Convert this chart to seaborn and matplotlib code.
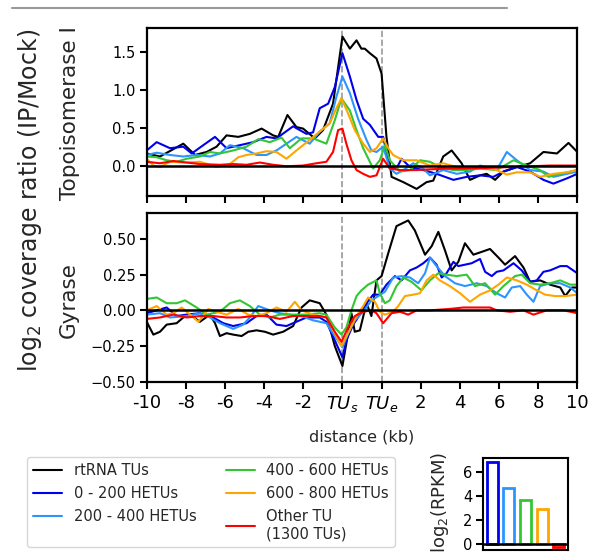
import numpy as np
import pandas as pd
import matplotlib
matplotlib.use("Agg")
import matplotlib.pyplot as plt
from matplotlib.lines import Line2D
import seaborn as sns

# ---------------- data ----------------
groups = ["rtRNA TUs", "0 - 200 HETUs", "200 - 400 HETUs",
          "400 - 600 HETUs", "600 - 800 HETUs", "Other TU\n(1300 TUs)"]
colors = ["black", "#0000ee", "#2b95ff", "#33c633", "#ffa500", "#ff0000"]

xtick_pos = [-10, -8, -6, -4, -2, 0, 2, 4, 6, 8, 10, 12]
xtick_lab = ["-10", "-8", "-6", "-4", "-2", "$TU_s$", "$TU_e$", "2", "4", "6", "8", "10"]

# Topoisomerase I panel
topo_rt_x = [-10, -9.32, -8.13, -7.53, -6.94, -6.43, -5.92, -5.32, -4.73, -4.13, -3.54, -3.28, -2.81, -2.35, -2.01, -1.41, -0.99, -0.48, 0, 0.38, 0.72, 0.97, 1.14, 1.40, 1.74, 2.0, 2.25, 2.51, 3.11, 3.79, 4.30, 4.64, 5.15, 5.58, 6.09, 6.52, 7.03, 7.37, 7.80, 8.23, 8.91, 9.59, 10.27, 10.96, 11.55, 12]
topo_rt_y = [0.16, 0.12, 0.29, 0.14, 0.18, 0.25, 0.40, 0.38, 0.42, 0.49, 0.40, 0.38, 0.67, 0.51, 0.49, 0.36, 0.47, 0.82, 1.71, 1.55, 1.66, 1.55, 1.55, 1.49, 1.42, 1.22, 0.38, -0.15, -0.22, -0.31, -0.22, -0.20, 0.12, 0.20, 0.03, -0.19, -0.13, -0.11, -0.19, -0.08, -0.02, 0.03, 0.18, 0.16, 0.30, 0.18]
topo_b0_x = [-10, -9.49, -8.81, -8.13, -7.70, -7.11, -6.51, -5.92, -5.24, -4.56, -3.88, -3.37, -2.52, -1.84, -1.50, -1.16, -0.73, -0.39, 0, 0.38, 0.72, 1.06, 1.40, 1.83, 2.08, 2.42, 2.76, 3.02, 3.45, 4.13, 4.81, 5.67, 6.35, 7.03, 7.71, 8.23, 8.91, 9.59, 10.27, 10.78, 11.47, 12]
topo_b0_y = [0.20, 0.31, 0.23, 0.25, 0.16, 0.27, 0.38, 0.23, 0.27, 0.31, 0.38, 0.36, 0.52, 0.42, 0.44, 0.76, 0.82, 1.04, 1.49, 1.18, 0.87, 0.62, 0.54, 0.38, 0.38, -0.02, -0.04, 0.09, -0.02, -0.06, -0.11, -0.19, -0.15, -0.13, -0.15, -0.08, -0.02, -0.08, -0.19, -0.24, -0.17, -0.11]
topo_b2_x = [-10, -9.49, -8.81, -8.13, -7.45, -6.77, -6.26, -5.75, -5.07, -4.39, -3.88, -3.37, -2.86, -2.35, -1.67, -1.16, -0.65, -0.31, 0, 0.38, 0.80, 1.23, 1.48, 1.74, 2.08, 2.42, 2.76, 3.11, 3.62, 4.13, 4.47, 5.15, 5.84, 6.52, 7.03, 7.88, 8.40, 8.91, 9.59, 10.27, 10.78, 11.47, 12]
topo_b2_y = [0.14, 0.17, 0.14, 0.12, 0.14, 0.12, 0.16, 0.27, 0.23, 0.14, 0.14, 0.20, 0.29, 0.38, 0.29, 0.45, 0.56, 0.91, 1.18, 0.96, 0.62, 0.34, 0.20, 0.18, 0.25, -0.04, -0.11, -0.06, 0.03, -0.04, -0.13, -0.06, -0.11, -0.08, 0.0, -0.06, 0.18, 0.07, -0.06, -0.08, -0.15, -0.11, -0.08]
topo_b4_x = [-10, -9.49, -8.98, -8.47, -7.96, -7.28, -6.77, -6.26, -5.58, -4.90, -4.30, -3.71, -3.11, -2.69, -2.09, -1.50, -0.82, -0.39, -0.05, 0.38, 0.72, 1.06, 1.57, 1.91, 2.17, 2.42, 2.94, 3.45, 3.96, 4.47, 4.98, 5.67, 6.35, 7.03, 7.88, 8.74, 9.42, 10.10, 10.53, 11.13, 12]
topo_b4_y = [0.12, 0.11, 0.07, 0.05, 0.09, 0.12, 0.18, 0.16, 0.20, 0.25, 0.35, 0.31, 0.37, 0.23, 0.36, 0.36, 0.29, 0.60, 0.89, 0.73, 0.47, 0.23, -0.04, 0.07, 0.27, 0.07, -0.08, -0.06, 0.07, 0.05, -0.02, -0.06, -0.06, -0.04, -0.06, 0.07, 0.0, -0.06, -0.15, -0.11, -0.06]
topo_b6_x = [-10, -9.66, -9.32, -8.81, -7.96, -7.28, -6.43, -5.75, -5.32, -4.90, -4.39, -3.88, -3.37, -2.86, -2.35, -1.67, -1.16, -0.65, -0.31, -0.05, 0.29, 0.63, 1.06, 1.40, 1.74, 2.08, 2.34, 2.59, 3.11, 3.79, 4.47, 5.15, 5.84, 6.52, 7.20, 7.88, 8.40, 8.91, 9.59, 10.10, 10.78, 11.47, 12]
topo_b6_y = [0.09, 0.0, -0.02, 0.05, 0.04, 0.05, -0.02, 0.02, 0.11, 0.14, 0.16, 0.19, 0.18, 0.09, 0.20, 0.34, 0.45, 0.56, 0.76, 0.89, 0.69, 0.47, 0.29, 0.18, 0.23, 0.36, 0.23, 0.14, 0.07, 0.07, 0.0, 0.03, -0.02, -0.04, -0.02, -0.06, -0.12, -0.09, -0.09, -0.15, -0.11, -0.09, -0.06]
topo_ot_x = [-10, -9.32, -8.64, -7.96, -7.28, -6.26, -5.58, -4.90, -4.22, -3.54, -2.86, -2.01, -1.33, -0.82, -0.48, -0.22, 0, 0.20, 0.46, 0.72, 1.06, 1.40, 1.74, 2.08, 2.42, 2.94, 3.79, 4.47, 5.49, 6.52, 7.54, 8.57, 9.59, 10.61, 12]
topo_ot_y = [0.05, 0.03, 0.06, 0.04, 0.02, 0.01, 0.02, 0.01, 0.04, 0.01, -0.01, 0.0, 0.03, 0.05, 0.18, 0.47, 0.49, 0.29, 0.07, -0.06, -0.11, -0.15, -0.13, 0.09, -0.04, -0.06, -0.06, -0.05, -0.04, -0.04, -0.03, -0.02, -0.01, 0.0, 0.0]

# Gyrase panel
gyr_rt_x = [-10, -9.66, -9.32, -8.98, -8.47, -8.13, -7.79, -7.28, -6.77, -6.51, -6.26, -5.92, -5.58, -5.15, -4.81, -4.39, -3.96, -3.54, -3.03, -2.52, -2.09, -1.67, -1.16, -0.82, -0.39, 0, 0.29, 0.46, 0.63, 0.89, 1.23, 1.48, 1.74, 2.0, 2.34, 2.76, 3.36, 3.70, 4.22, 4.56, 4.90, 5.24, 5.58, 5.92, 6.26, 6.69, 7.12, 7.54, 7.97, 8.31, 8.82, 9.25, 9.59, 10.10, 10.61, 11.13, 11.38, 11.72, 12]
gyr_rt_y = [-0.08, -0.17, -0.15, -0.10, -0.09, -0.05, -0.03, -0.08, -0.03, -0.09, -0.18, -0.16, -0.17, -0.18, -0.15, -0.14, -0.15, -0.17, -0.15, -0.11, 0.02, 0.07, 0.05, -0.03, -0.25, -0.39, -0.16, -0.02, -0.15, -0.14, 0.05, -0.04, 0.21, 0.24, 0.40, 0.59, 0.63, 0.56, 0.39, 0.45, 0.55, 0.42, 0.28, 0.34, 0.47, 0.39, 0.41, 0.43, 0.37, 0.32, 0.38, 0.30, 0.20, 0.21, 0.18, 0.16, 0.10, 0.16, 0.16]
gyr_b0_x = [-10, -8.98, -8.47, -7.96, -7.28, -6.60, -6.09, -5.58, -4.90, -4.39, -3.88, -3.37, -2.86, -2.52, -1.84, -1.16, -0.82, -0.39, 0, 0.20, 0.55, 0.89, 1.23, 1.57, 1.91, 2.25, 2.68, 3.02, 3.45, 3.79, 4.13, 4.47, 4.81, 5.07, 5.32, 5.67, 5.92, 6.26, 6.60, 7.03, 7.29, 7.63, 7.88, 8.23, 8.74, 9.16, 9.59, 9.93, 10.27, 10.61, 11.13, 11.47, 12]
gyr_b0_y = [-0.02, 0.02, -0.04, -0.03, -0.02, -0.05, -0.09, -0.11, -0.09, -0.04, -0.03, -0.10, -0.11, -0.09, -0.05, -0.05, -0.08, -0.21, -0.33, -0.21, -0.10, -0.03, 0.05, 0.11, 0.11, 0.18, 0.24, 0.21, 0.28, 0.30, 0.33, 0.37, 0.32, 0.23, 0.26, 0.34, 0.31, 0.32, 0.33, 0.36, 0.27, 0.24, 0.27, 0.28, 0.33, 0.28, 0.20, 0.21, 0.27, 0.28, 0.31, 0.31, 0.26]
gyr_b2_x = [-10, -9.32, -8.81, -7.96, -7.28, -6.77, -6.26, -5.58, -5.07, -4.73, -4.30, -3.71, -3.20, -2.69, -2.09, -1.50, -0.82, -0.39, 0, 0.29, 0.63, 1.06, 1.48, 1.83, 2.17, 2.59, 3.02, 3.45, 3.87, 4.22, 4.47, 4.81, 5.24, 5.75, 6.26, 6.86, 7.37, 7.88, 8.31, 8.65, 9.08, 9.42, 9.76, 10.10, 10.61, 11.13, 11.64, 12]
gyr_b2_y = [-0.03, -0.02, -0.05, -0.04, -0.02, -0.05, -0.09, -0.13, -0.10, -0.05, 0.03, 0.0, -0.02, -0.03, -0.04, -0.07, -0.09, -0.18, -0.26, -0.16, -0.07, -0.01, 0.07, 0.10, 0.13, 0.23, 0.24, 0.23, 0.19, 0.26, 0.37, 0.31, 0.24, 0.19, 0.17, 0.19, 0.17, 0.12, 0.09, 0.16, 0.17, 0.11, 0.06, 0.17, 0.19, 0.19, 0.16, 0.12]
gyr_b4_x = [-10, -9.49, -8.98, -8.47, -8.04, -7.45, -6.94, -6.26, -5.75, -5.24, -4.73, -4.22, -3.71, -3.20, -2.52, -1.84, -1.16, -0.82, -0.39, -0.05, 0.20, 0.46, 0.72, 0.97, 1.31, 1.74, 1.91, 2.17, 2.42, 2.76, 3.11, 3.53, 4.04, 4.47, 4.90, 5.32, 5.84, 6.35, 6.77, 7.29, 7.80, 8.23, 8.82, 9.16, 9.59, 10.10, 10.61, 11.13, 11.64, 12]
gyr_b4_y = [0.08, 0.09, 0.05, 0.05, 0.07, 0.02, -0.03, -0.01, 0.05, 0.07, 0.03, -0.03, -0.05, -0.03, -0.03, -0.03, -0.02, -0.03, -0.12, -0.17, -0.12, 0.0, 0.10, 0.14, 0.18, 0.21, 0.12, 0.05, 0.07, 0.17, 0.23, 0.20, 0.14, 0.21, 0.26, 0.25, 0.24, 0.25, 0.17, 0.19, 0.11, 0.17, 0.24, 0.25, 0.19, 0.18, 0.19, 0.21, 0.18, 0.18]
gyr_b6_x = [-10, -9.49, -8.98, -8.64, -8.21, -7.79, -7.36, -6.85, -6.43, -5.92, -5.32, -4.81, -4.39, -3.88, -3.37, -2.86, -2.43, -2.09, -1.50, -0.82, -0.39, -0.05, 0.29, 0.72, 1.06, 1.31, 1.66, 1.91, 2.17, 2.59, 2.85, 3.19, 3.62, 3.96, 4.30, 4.64, 4.98, 5.49, 6.01, 6.52, 7.03, 7.54, 7.97, 8.40, 8.91, 9.42, 9.93, 10.36, 10.87, 11.38, 12]
gyr_b6_y = [0.0, 0.03, -0.03, -0.02, 0.02, -0.03, -0.08, 0.01, -0.01, -0.03, 0.01, -0.03, -0.04, -0.02, 0.02, -0.01, 0.06, 0.0, -0.03, -0.05, -0.16, -0.25, -0.16, -0.04, 0.03, 0.09, 0.06, -0.01, -0.03, -0.01, 0.03, 0.10, 0.11, 0.12, 0.21, 0.25, 0.21, 0.17, 0.12, 0.06, 0.11, 0.14, 0.18, 0.23, 0.21, 0.18, 0.14, 0.11, 0.10, 0.10, 0.11]
gyr_ot_x = [-10, -9.32, -8.64, -7.96, -7.28, -6.60, -5.92, -5.24, -4.56, -3.88, -3.20, -2.52, -1.84, -1.16, -0.82, -0.39, -0.05, 0.29, 0.63, 1.06, 1.48, 1.74, 2.08, 2.51, 2.94, 3.36, 3.79, 4.47, 5.49, 6.18, 6.86, 7.54, 7.88, 8.57, 9.25, 9.76, 10.44, 11.30, 12]
gyr_ot_y = [-0.06, -0.05, -0.03, -0.05, -0.04, -0.04, -0.05, -0.05, -0.04, -0.04, -0.06, -0.04, -0.04, -0.04, -0.05, -0.15, -0.22, -0.12, -0.04, -0.01, 0.0, -0.02, -0.09, -0.02, -0.01, -0.03, 0.0, 0.0, 0.01, 0.02, 0.02, 0.02, 0.0, -0.01, 0.0, -0.03, 0.0, 0.0, -0.02]

# inset: expression level of the gene groups
bar_groups = ["0 - 200", "200 - 400", "400 - 600", "600 - 800", "Other"]
bar_values = [6.8, 4.7, 3.7, 2.9, -0.28]
bar_colors = ["#0000ee", "#2b95ff", "#33c633", "#ffa500", "#ff0000"]

topo_series = [(topo_rt_x, topo_rt_y), (topo_b0_x, topo_b0_y), (topo_b2_x, topo_b2_y),
               (topo_b4_x, topo_b4_y), (topo_b6_x, topo_b6_y), (topo_ot_x, topo_ot_y)]
gyr_series = [(gyr_rt_x, gyr_rt_y), (gyr_b0_x, gyr_b0_y), (gyr_b2_x, gyr_b2_y),
              (gyr_b4_x, gyr_b4_y), (gyr_b6_x, gyr_b6_y), (gyr_ot_x, gyr_ot_y)]


def to_frame(series):
    parts = []
    for name, (xs, ys) in zip(groups, series):
        parts.append(pd.DataFrame({"x": xs, "y": ys, "group": name}))
    return pd.concat(parts, ignore_index=True)


df_topo = to_frame(topo_series)
df_gyr = to_frame(gyr_series)

# ---------------- style ----------------
sns.set_style("ticks")
plt.rcParams["font.family"] = ["DejaVu Sans"]
plt.rcParams["axes.linewidth"] = 1.6
plt.rcParams["xtick.major.width"] = 1.5
plt.rcParams["ytick.major.width"] = 1.5
plt.rcParams["xtick.major.size"] = 5
plt.rcParams["ytick.major.size"] = 5
plt.rcParams["xtick.color"] = "black"
plt.rcParams["ytick.color"] = "black"
plt.rcParams["axes.edgecolor"] = "black"

W, H = 596, 556
fig = plt.figure(figsize=(W / 100, H / 100), dpi=100)


def fbox(x0, y0, x1, y1):
    return [x0 / W, 1 - y1 / H, (x1 - x0) / W, (y1 - y0) / H]


ax1 = fig.add_axes(fbox(146.7, 28.3, 577.3, 195.7))
ax2 = fig.add_axes(fbox(146.7, 213.3, 577.3, 381.7))
ax3 = fig.add_axes(fbox(483.3, 457.7, 568.3, 550.0))

pal = dict(zip(groups, colors))
for ax, df in [(ax1, df_topo), (ax2, df_gyr)]:
    for xv in (0, 2):
        ax.axvline(xv, color="#999999", linestyle="--", linewidth=1.2, zorder=1)
    sns.lineplot(data=df, x="x", y="y", hue="group", hue_order=groups,
                 palette=pal, estimator=None, linewidth=1.5, ax=ax,
                 legend=(ax is ax1))
    ax.axhline(0, color="black", linewidth=1.8, zorder=3)
    ax.set_xlim(-10, 12)
    ax.set_xticks(xtick_pos)
    ax.set_xlabel("")
    ax.set_ylabel("")
    for s in ax.spines.values():
        s.set_visible(True)
        s.set_linewidth(1.6)
    ax.tick_params(axis="y", labelsize=10.5, pad=3)
    ax.tick_params(axis="x", labelsize=13, pad=4)

ax1.set_ylim(-0.40, 1.82)
ax1.set_yticks([0.0, 0.5, 1.0, 1.5])
ax1.set_xticklabels([])
ax2.set_ylim(-0.50, 0.68)
ax2.set_yticks([-0.5, -0.25, 0.0, 0.25, 0.5])
ax2.set_xticklabels(xtick_lab)

handles, labels = ax1.get_legend_handles_labels()
ax1.get_legend().remove()
fig.legend(handles, labels, loc="upper left", ncol=2,
           bbox_to_anchor=(27 / W, 1 - 457 / H), borderaxespad=0,
           fontsize=10.5, frameon=True, edgecolor="#cccccc", fancybox=True,
           labelspacing=0.55, handlelength=2.0, columnspacing=2.0)

# inset bars
df_bar = pd.DataFrame({"grp": bar_groups, "val": bar_values})
sns.barplot(data=df_bar, x="grp", y="val", hue="grp", palette=dict(zip(bar_groups, bar_colors)),
            fill=False, linewidth=2, width=0.65, legend=False, ax=ax3)
ax3.axhline(0, color="black", linewidth=1.8)
ax3.set_xlim(-0.53, 4.57)
ax3.set_ylim(-0.5, 7.2)
ax3.set_yticks([0, 2, 4, 6])
ax3.set_xticks([])
ax3.set_xlabel("")
ax3.set_ylabel("")
ax3.tick_params(axis="y", labelsize=10.5, pad=3)
for s in ax3.spines.values():
    s.set_visible(True)
    s.set_linewidth(1.5)

# labels
fig.text(30 / W, 1 - 200 / H, "log$_2$ coverage ratio (IP/Mock)", rotation=90,
         ha="center", va="center", fontsize=17)
fig.text(70 / W, 1 - 113 / H, "Topoisomerase I", rotation=90,
         ha="center", va="center", fontsize=15.5)
fig.text(69 / W, 1 - 300 / H, "Gyrase", rotation=90,
         ha="center", va="center", fontsize=15.5)
fig.text(362 / W, 1 - 437 / H, "distance (kb)", ha="center", va="center", fontsize=11.5)
fig.text(440 / W, 1 - 452 / H, "log$_2$(RPKM)", rotation=90,
         ha="center", va="top", fontsize=13)

# gray rule at the top
fig.add_artist(Line2D([11.7 / W, 506.7 / W], [1 - 8.3 / H, 1 - 8.3 / H],
                      color="#999999", linewidth=1.5))

fig.savefig("out.png", dpi=100)
